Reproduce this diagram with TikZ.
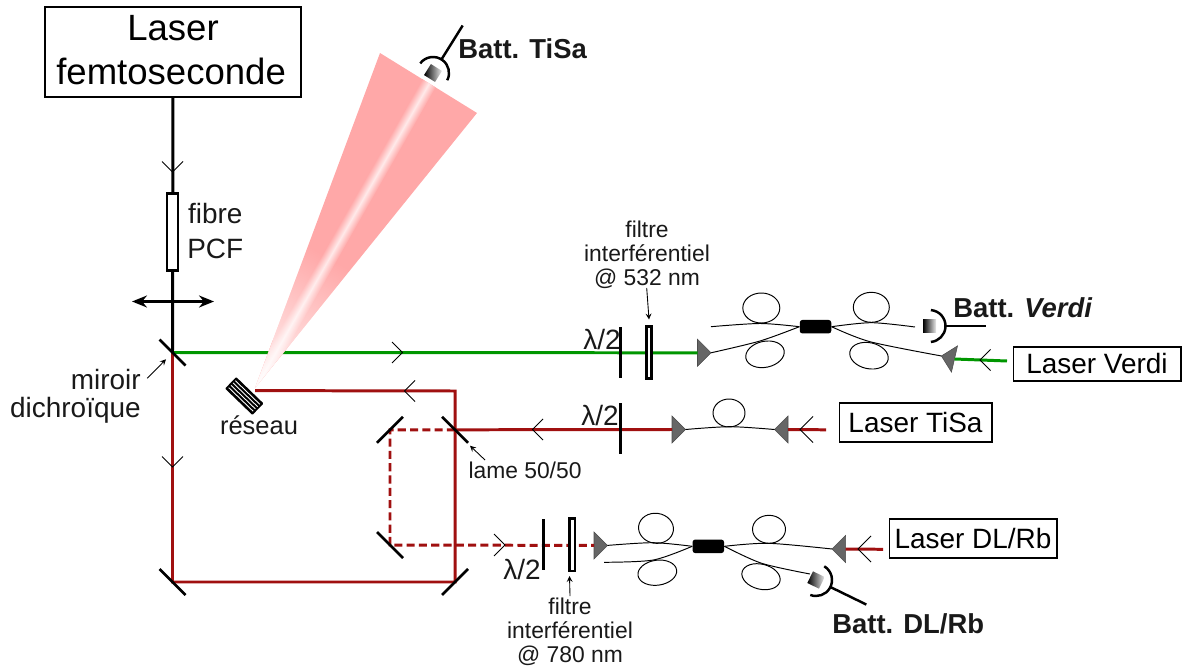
\documentclass[tikz,border=0pt]{standalone}
\usepackage{fontspec}
\setmainfont{Liberation Sans}
\usetikzlibrary{fadings,calc,arrows.meta}
\definecolor{rouge}{RGB}{160,16,16}
\definecolor{vert}{RGB}{0,150,0}
\definecolor{rose}{RGB}{255,168,168}
\newcommand{\FG}{\fontsize{20.8}{25}\selectfont}
\newcommand{\FM}{\fontsize{15.9}{19}\selectfont}
\newcommand{\FB}{\fontsize{15.6}{19}\selectfont\bfseries}
\newcommand{\FP}{\fontsize{13}{13.6}\selectfont}
\newcommand{\Prisme}[4]{% tip named #1
  \begin{scope}[shift={(#2,#3)},rotate=#4]
    \filldraw[fill=black!60,draw=black!70,line width=.3pt] (0,-13.5) -- (13.5,0) -- (0,13.5) -- cycle;
    \coordinate (#1) at (13.5,0);
    \coordinate (#1b) at (0,0);
  \end{scope}}
\newcommand{\Detect}[4]{% stem end named #1
  \begin{scope}[shift={(#2,#3)},rotate=#4]
    \shade[left color=black,right color=black!8] (-6.5,-6.5) rectangle (6.5,6.5);
    \draw[line width=1.4pt] (-85:16) arc[start angle=-85,end angle=85,radius=16];
    \coordinate (#1a) at (16,0);
    \coordinate (#1b) at (56,0);
    \draw[line width=1.4pt] (#1a) -- (#1b);
  \end{scope}}
\tikzfading[name=fadeapex,left color=transparent!8,right color=transparent!100]

\begin{document}
\begin{tikzpicture}[x=.02cm,y=-.02cm]
\tikzstyle{texto}=[draw=none,fill=none,inner sep=0pt,black!90!white,align=center]
\tikzstyle{boite}=[draw=black,line width=.6pt,fill=white,inner sep=0pt,align=center]
\tikzstyle{mirror}=[black,line width=1.5pt]
\tikzstyle{beam}=[line width=1.7pt]
\tikzstyle{fibre}=[black,line width=.55pt]
\tikzstyle{lamelle}=[draw=black,line width=1.5pt,fill=white,inner sep=0pt]
\tikzstyle{coupleur}=[fill=black,rounded corners=1.5pt,inner sep=0pt,minimum width=.63cm,minimum height=.27cm]
\tikzstyle{note}=[black,line width=.5pt,-stealth]
\useasboundingbox (0,0) rectangle (1189,672);

% points du montage
\coordinate (m0) at (172.5,352.5);
\coordinate (m1) at (172.5,582);
\coordinate (m2) at (455,582);
\coordinate (m3) at (455,429.8);
\coordinate (m4) at (390,429.8);
\coordinate (m5) at (390,545);
\coordinate (res) at (255,390.6);
\coordinate (m6) at (455,391);

% boites
\node[boite,minimum width=5.12cm,minimum height=1.8cm,font=\FG] (femto) at (173,52) {Laser\\\hspace*{-2.2pt}femtoseconde\rule[-2.6pt]{0pt}{2.6pt}};
\node[boite,minimum width=3.36cm,minimum height=.68cm,font=\FM] (verdi) at (1097,364) {Laser Verdi};
\node[boite,minimum width=3.06cm,minimum height=.78cm,font=\FM] (tisa) at (915.5,422.5) {Laser TiSa};
\node[boite,minimum width=3.36cm,minimum height=.78cm,font=\FM] (dlrb) at (973,538.5) {Laser DL/Rb};

% prismes
\Prisme{p1}{697.5}{352.8}{0}
\Prisme{p2}{954.5}{359}{167}
\Prisme{p3}{672}{429.5}{0}
\Prisme{p4}{788}{429.5}{180}
\Prisme{p5}{594}{545.4}{0}
\Prisme{p6}{845.5}{549}{180}
\coordinate (v0) at (1007,361);
\coordinate (t0) at (826,429.8);
\coordinate (d0) at (883,549.3);

% faisceau vert et spectre
\draw[beam,vert] (m0) -- (p1b);
\draw[beam,vert] (p2b) -- (v0);
\begin{scope}
\clip (255,388) -- (380,53) -- (477,113) -- cycle;
\begin{scope}[transform canvas={shift={(255,388)},rotate=60.3}]
\fill[rose] (-10,-70) rectangle (370,70);
\shade[top color=rose,bottom color=rose,middle color=rose!25!white] (0,-8) rectangle (370,8);
\fill[white,path fading=fadeapex] (0,-70) rectangle (150,70);
\end{scope}
\end{scope}

% faisceaux
\draw[beam,black] (femto) -- (m0);
\draw[beam,rouge] (m0) -- (m1) -- (m2) -- (m6) -- (res);
\draw[beam,rouge] (m3) -- (p3b);
\draw[beam,rouge] (p4b) -- (t0);
\draw[beam,rouge] (p6b) -- (d0);
\draw[beam,rouge,dash pattern=on 4.6pt off 2.4pt] (m3) -- (m4) -- (m5) -- (p5b);

% miroirs
\foreach \c in {m0,m1,m3,m5}
  \draw[mirror] ($(\c)+(-13,-13)$) -- ($(\c)+(13,13)$);
\foreach \c in {m2,m4}
  \draw[mirror] ($(\c)+(-13,13)$) -- ($(\c)+(13,-13)$);

% reseau
\begin{scope}[shift={(244.3,396)},rotate=-44]
\fill[black,rounded corners=.5pt] (-19,-8) rectangle (19,8);
\foreach \y in {-4.8,-1.6,1.6,4.8}
  \draw[white,line width=.5pt] (-17,\y) -- (17,\y);
\end{scope}

% fibre PCF et lentille
\node[lamelle,minimum width=.22cm,minimum height=1.54cm] (pcf) at (172.5,232) {};
\coordinate (len1) at (132,301.5);
\coordinate (len2) at (214,301.5);
\draw[black,line width=1.3pt,{Stealth[length=.3cm,width=.24cm]}-{Stealth[length=.3cm,width=.24cm]}] (len1) -- (len2);

% lames et filtres
\draw[mirror] (620.7,327) coordinate (l1) -- (620.7,378);
\draw[mirror] (620.7,403) coordinate (l2) -- (620.7,454);
\draw[mirror] (543.7,519) coordinate (l3) -- (543.7,570);
\node[lamelle,minimum width=.11cm,minimum height=1.03cm] (f1) at (649,352.5) {};
\node[lamelle,minimum width=.11cm,minimum height=1.05cm] (f2) at (572.3,544.7) {};

% petites fleches
\foreach \x/\y/\a/\s in {172.5/172/-90/10.5,172.5/467/-90/10.5,402.5/352.5/0/10.5,404.5/391/180/10.5,532.5/429.5/180/10.5,505/545/0/11,980/360/180/10.5,800/429.5/180/13,858/549/180/13}
  \draw[line width=.5pt,shift={(\x,\y)},rotate=\a] (-\s,-\s) -- (0,0) -- (-\s,\s);

% fibres Verdi
\node[coupleur] (c1) at (815.5,326.7) {};
\draw[fibre] plot[smooth,tension=.5] coordinates {(711,326.7) (760,323.5) (c1.west)};
\draw[fibre] plot[smooth,tension=.5] coordinates {(p1) (760,341) (c1.west)};
\draw[fibre] plot[smooth,tension=.5] coordinates {(c1.east) (871.5,322.7) (915,327)};
\draw[fibre] plot[smooth,tension=.5] coordinates {(c1.east) (870,341.7) (p2)};
\draw[fibre] (761.3,308) ellipse[x radius=18.5,y radius=15];
\draw[fibre] (871.3,307.3) ellipse[x radius=18,y radius=15];
\draw[fibre,rotate around={12:(765,354.3)}] (765,354.3) ellipse[x radius=19.5,y radius=13];
\draw[fibre,rotate around={-12:(869,355.7)}] (869,355.7) ellipse[x radius=19.5,y radius=13];

% fibre TiSa
\draw[fibre] plot[smooth,tension=.5] coordinates {(p3) (730,426.7) (p4)};
\draw[fibre] (729,413) ellipse[x radius=16,y radius=14];

% fibres DL/Rb
\node[coupleur] (c2) at (708.3,546.3) {};
\draw[fibre] plot[smooth,tension=.5] coordinates {(p5) (653.3,542.7) (c2.west)};
\draw[fibre] plot[smooth,tension=.5] coordinates {(604,562.3) (653.3,560) (c2.west)};
\draw[fibre] plot[smooth,tension=.5] coordinates {(c2.east) (768.3,543.3) (p6)};
\draw[fibre] plot[smooth,tension=.5] coordinates {(c2.east) (761.7,563.3) (810,574)};
\draw[fibre,rotate around={-8:(656,528.3)}] (656,528.3) ellipse[x radius=17.5,y radius=15];
\draw[fibre,rotate around={8:(657.3,572.7)}] (657.3,572.7) ellipse[x radius=19.5,y radius=12.5];
\draw[fibre] (769,529.3) ellipse[x radius=16.5,y radius=14];
\draw[fibre,rotate around={-14:(761,576.7)}] (761,576.7) ellipse[x radius=19.5,y radius=12.5];

% detecteurs
\Detect{b1}{433}{73}{58}
\Detect{b2}{929.5}{326}{0}
\Detect{b3}{816}{580}{-26}

% textes
\node[texto,font=\FM,anchor=west] (tpcf) at (187,231) {fibre\\[.5pt]PCF};
\node[texto,font=\fontsize{15.9}{16}\selectfont,anchor=east,align=right] (tmir) at (141,396) {miroir\\dichroïque};
\node[texto,font=\fontsize{14.5}{17}\selectfont] (tres) at (259,425) {réseau};
\node[texto,font=\fontsize{13}{16}\selectfont] (tlame) at (525,470) {lame 50/50};
\node[texto,font=\FP] (tf1) at (647,255) {filtre\\interférentiel\\@ 532 nm};
\node[texto,font=\FP] (tf2) at (570,632) {filtre\\interférentiel\\@ 780 nm};
\node[texto,font=\FM] (tl1) at (602,340) {λ/2};
\node[texto,font=\FM] (tl2) at (600,416) {λ/2};
\node[texto,font=\FM] (tl3) at (522,570) {λ/2};
\node[texto,font=\FB,anchor=west] (tb1) at (458,49) {Batt. TiSa};
\node[texto,font=\FB,anchor=west] (tb2) at (953,308) {Batt. \textit{Verdi}};
\node[texto,font=\FB,anchor=west] (tb3) at (832,624) {Batt. DL/Rb};

% reperes
\coordinate (n1a) at (646.7,288);
\coordinate (n1b) at (649,319.5);
\coordinate (n2a) at (570,596);
\coordinate (n2b) at (569.5,576);
\coordinate (n3a) at (147.3,378.3);
\coordinate (n3b) at (166,359.3);
\coordinate (n4a) at (485,460);
\coordinate (n4b) at (470,445.7);
\draw[note] (n1a) -- (n1b);
\draw[note] (n2a) -- (n2b);
\draw[note] (n3a) -- (n3b);
\draw[note] (n4a) -- (n4b);
\end{tikzpicture}
\end{document}
